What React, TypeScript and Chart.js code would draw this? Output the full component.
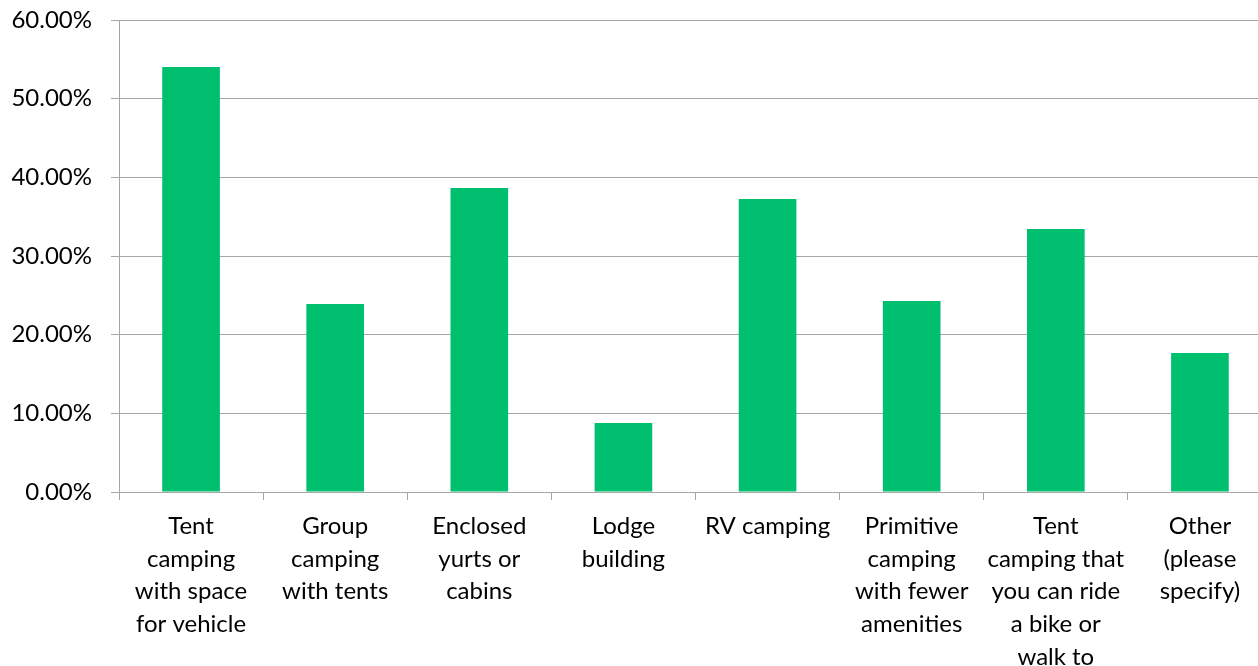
import React, { useEffect, useRef } from "react";
import { Chart, registerables } from "chart.js";

Chart.register(...registerables);

const categories: string[][] = [
  ["Tent", "camping", "with space", "for vehicle"],
  ["Group", "camping", "with tents"],
  ["Enclosed", "yurts or", "cabins"],
  ["Lodge", "building"],
  ["RV camping"],
  ["Primitive", "camping", "with fewer", "amenities"],
  ["Tent", "camping that", "you can ride", "a bike or", "walk to"],
  ["Other", "(please", "specify)"],
];

const values: number[] = [54.02, 23.9, 38.64, 8.77, 37.24, 24.28, 33.43, 17.67];

const yTicks = { min: 0, max: 60, step: 10 };

const BAR_COLOR = "#00BF6F";
const GRID_COLOR = "#A6A6A6";
const FONT_FAMILY = "Lato, 'Open Sans', sans-serif";

export default function App() {
  const ref = useRef<HTMLCanvasElement | null>(null);

  useEffect(() => {
    if (!ref.current) return;
    const chart = new Chart(ref.current, {
      type: "bar",
      data: {
        labels: categories,
        datasets: [
          {
            data: values,
            backgroundColor: BAR_COLOR,
            borderWidth: 0,
            categoryPercentage: 1,
            barPercentage: 0.4,
          },
        ],
      },
      options: {
        responsive: false,
        animation: false,
        layout: { padding: { top: 20, right: 0, left: 0, bottom: 0 } },
        plugins: { legend: { display: false }, tooltip: { enabled: false } },
        scales: {
          x: {
            offset: true,
            grid: {
              display: true,
              drawOnChartArea: false,
              drawTicks: true,
              tickLength: 8,
              color: GRID_COLOR,
              offset: true,
            },
            border: { display: true, color: GRID_COLOR, width: 1 },
            ticks: {
              color: "#000000",
              font: { family: FONT_FAMILY, size: 24, lineHeight: 1.36 },
              padding: 10,
              maxRotation: 0,
              minRotation: 0,
              autoSkip: false,
            },
            afterFit: (scale: any) => {
              scale.height = 174;
              scale.paddingLeft = 0;
              scale.paddingRight = 0;
            },
          },
          y: {
            min: yTicks.min,
            max: yTicks.max,
            grid: {
              color: GRID_COLOR,
              drawTicks: true,
              tickLength: 8,
            },
            border: { display: true, color: GRID_COLOR, width: 1 },
            ticks: {
              stepSize: yTicks.step,
              color: "#000000",
              padding: 19,
              font: { family: FONT_FAMILY, size: 24 },
              callback: (v: any) => Number(v).toFixed(2) + "%",
            },
            afterFit: (scale: any) => {
              scale.width = 119;
              scale.paddingTop = 0;
              scale.paddingBottom = 0;
            },
          },
        },
      },
    });
    return () => chart.destroy();
  }, []);

  return (
    <div
      style={{
        position: "fixed",
        left: 0,
        top: 0,
        width: 1258,
        height: 666,
        overflow: "hidden",
        background: "#ffffff",
      }}
    >
      <canvas ref={ref} width={1272} height={666} style={{ width: 1272, height: 666, display: "block" }} />
    </div>
  );
}
